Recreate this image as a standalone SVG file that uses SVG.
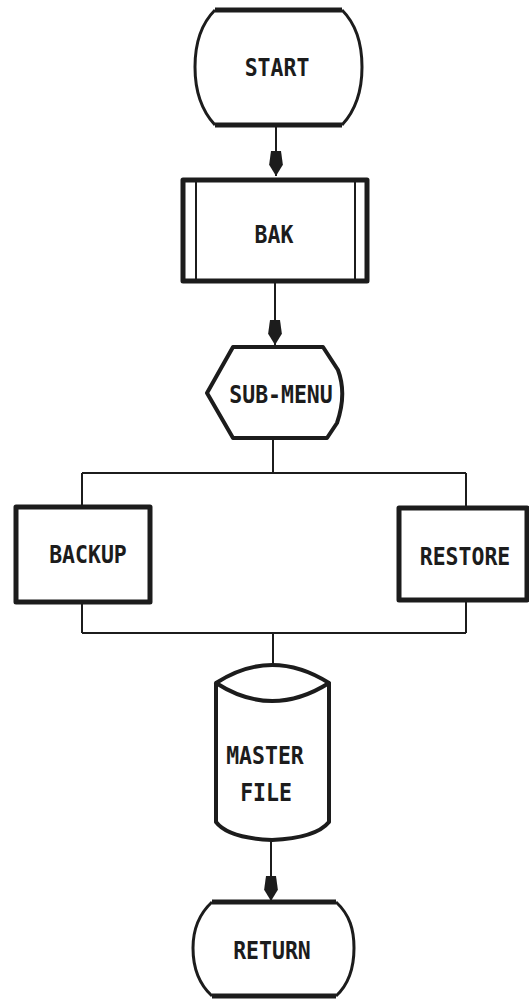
<svg xmlns="http://www.w3.org/2000/svg" width="529" height="1001" viewBox="0 0 529 1001">
<style>
.shape{fill:none;stroke:#1c1c1c;stroke-linejoin:round}
.thick{stroke-width:5}
.mid{stroke-width:4}
.thin{stroke-width:2}
.conn{fill:none;stroke:#1c1c1c;stroke-width:2}
.lbl{font-family:"DejaVu Sans Mono","Liberation Mono",monospace;font-weight:bold;font-size:21.5px;fill:#1c1c1c;text-anchor:middle}
</style>
<defs>
<marker id="arr" markerUnits="userSpaceOnUse" markerWidth="30" markerHeight="30" viewBox="-22 -8 24 16" refX="0" refY="0" orient="auto" overflow="visible">
<path d="M-20,-4 L-9,-5.5 L0,0 L-9,5.5 L-20,4 Z" fill="#1c1c1c"/>
</marker>
</defs>
<rect x="0" y="0" width="529" height="1001" fill="#ffffff"/>
<g id="connectors">
<path class="conn" d="M276,125 V176" marker-end="url(#arr)"/>
<path class="conn" d="M275,283 V345" marker-end="url(#arr)"/>
<path class="conn" d="M273,438 V473 M82,473 H466 M82,473 V507 M466,473 V508"/>
<path class="conn" d="M82,602 V633 M466,600 V633 M82,633 H466 M273,633 V666"/>
<path class="conn" d="M271,840 V901" marker-end="url(#arr)"/>
</g>
<g id="start">
<path class="shape" stroke-width="3" d="M215,10 C201,24 195,45 195,67 C195,90 201,110 215,125 M342,10 C356,24 362,45 362,67 C362,90 356,110 342,125"/>
<path class="shape thick" d="M215,10 H342 M215,125 H342"/>
<g transform="translate(277,76) scale(1,1.15)"><text class="lbl" x="0" y="0">START</text></g>
</g>
<g id="bak">
<rect class="shape thick" x="183" y="180" width="184" height="101"/>
<path class="shape thin" d="M196,180 V281 M355,180 V281"/>
<g transform="translate(274,243) scale(1,1.15)"><text class="lbl" x="0" y="0">BAK</text></g>
</g>
<g id="sub-menu">
<path class="shape mid" d="M233,347 H323 L338,370 Q347,394 337,423 L327,438 H233 L207,393 Z"/>
<g transform="translate(281,403) scale(1,1.15)"><text class="lbl" x="0" y="0">SUB-MENU</text></g>
</g>
<g id="backup">
<rect class="shape thick" x="16" y="507" width="134" height="95"/>
<g transform="translate(88,563) scale(1,1.15)"><text class="lbl" x="0" y="0">BACKUP</text></g>
</g>
<g id="restore">
<rect class="shape thick" x="399" y="508" width="128" height="92"/>
<g transform="translate(465,565) scale(1,1.15)"><text class="lbl" x="0" y="0">RESTORE</text></g>
</g>
<g id="master-file">
<path class="shape mid" d="M216,683 Q272,647 329,683 Q272,719 216,683 Z"/>
<path class="shape mid" d="M216,683 V822 Q228,838 272,840 Q316,838 329,822 V683"/>
<g transform="translate(265,764) scale(1,1.15)"><text class="lbl" x="0" y="0">MASTER</text></g>
<g transform="translate(266,801) scale(1,1.15)"><text class="lbl" x="0" y="0">FILE</text></g>
</g>
<g id="return">
<path class="shape" stroke-width="3" d="M212,902 C198,915 193,930 193,948 C193,968 200,985 212,996 M336,902 C350,915 354,930 354,948 C354,968 348,985 336,996"/>
<path class="shape thick" d="M212,902 H336 M212,996 H336"/>
<g transform="translate(272,959) scale(1,1.15)"><text class="lbl" x="0" y="0">RETURN</text></g>
</g>
</svg>
